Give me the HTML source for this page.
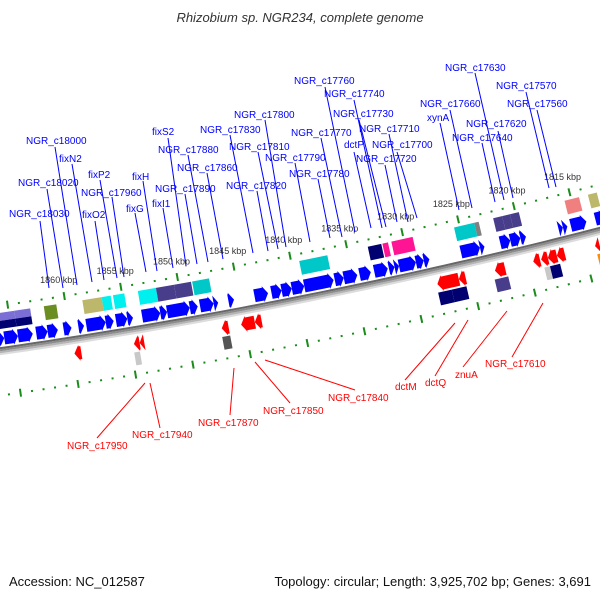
<!DOCTYPE html>
<html><head><meta charset="utf-8">
<style>
html,body{margin:0;padding:0;background:#fff;}
svg{display:block;font-family:"Liberation Sans",sans-serif;}
</style></head>
<body>
<svg id="map" width="600" height="600" viewBox="0 0 600 600" xmlns="http://www.w3.org/2000/svg">
<rect width="600" height="600" fill="#fff"/>
<text x="300" y="22" text-anchor="middle" font-size="13" font-style="italic" fill="#333">Rhizobium sp. NGR234, complete genome</text>
<g id="backbone"></g><g id="ticks"></g><g id="features"></g><g id="labels"></g>
<text x="9" y="586" font-size="13" fill="#111">Accession: NC_012587</text>
<text x="591" y="586" text-anchor="end" font-size="13" fill="#111">Topology: circular; Length: 3,925,702 bp; Genes: 3,691</text>
</svg>
<script>
// ---- data (kbp) ----
const fwd1Start=[1866.4,1865.7,1864.5,1862.9,1861.9,1860.5,1859.2,1858.5,1856.8,1855.9,1854.9,1853.6,1852.0,1851.4,1849.4,1848.5,1847.3,1846.0,1843.7,1842.2,1841.3,1840.4,1839.3,1836.6,1835.8,1834.4,1833.1,1831.8,1831.3,1830.9,1829.4,1828.7,1825.4,1823.7,1821.9,1821.0,1820.1,1816.7,1816.3,1815.6,1813.4];
const fwd1End=[1865.7,1864.5,1863.2,1861.9,1861.0,1859.8,1858.7,1856.8,1856.1,1854.9,1854.4,1852.0,1851.4,1849.4,1848.7,1847.3,1846.9,1845.5,1842.5,1841.3,1840.4,1839.3,1836.7,1835.8,1834.6,1833.4,1831.9,1831.3,1830.9,1829.4,1828.7,1828.2,1823.7,1823.3,1821.0,1820.1,1819.6,1816.3,1815.9,1814.2,1812.5];
const fwd2Start=[1866.1,1864.5,1866.1,1864.5,1861.9,1858.5,1856.8,1855.8,1853.6,1852.0,1850.4,1848.8,1839.3,1833.2,1831.9,1831.1,1825.5,1823.7,1822.0,1821.2,1820.5,1815.6,1813.5];
const fwd2End=[1864.5,1863.1,1864.5,1863.1,1860.8,1856.8,1856.0,1854.8,1852.0,1850.4,1848.9,1847.3,1836.8,1832.0,1831.4,1829.2,1823.7,1823.3,1821.2,1820.5,1819.7,1814.3,1812.7];
const fwd2Color=["#7b6fd6","#7b6fd6","#000070","#000070","#6b8e23","#bdb76b","#00f0f0","#00f0f0","#00f0f0","#483d8b","#483d8b","#00c8c8","#00c8c8","#000070","#ff1493","#ff1493","#00c8c8","#808080","#483d8b","#483d8b","#483d8b","#f08080","#bdb76b"];
const fwd2Part=["upper","upper","lower","lower","full","full","full","full","full","full","full","full","full","full","full","full","full","full","full","full","full","full","full"];
const rev1Start=[1859.9,1854.7,1854.2,1847.0,1845.3,1844.1,1828.0,1826.1,1822.9,1819.5,1818.8,1818.2,1817.4,1814.0];
const rev1End=[1859.3,1854.2,1853.8,1846.4,1844.1,1843.5,1826.1,1825.5,1822.0,1818.9,1818.2,1817.4,1816.7,1813.6];
const rev2Start=[1854.8,1847.1,1828.1,1826.9,1823.1,1818.7,1818.2,1814.0];
const rev2End=[1854.3,1846.4,1826.9,1825.6,1821.9,1818.2,1817.3,1813.5];
const rev2Color=["#c8c8c8","#555555","#000070","#000070","#483d8b","#c8c8c8","#000070","#ff8c00"];
const tickMin=1808, tickMax=1870;
const tickLabelMin=1815, tickLabelMax=1860;
const topLabels=["NGR_c18030","NGR_c18020","NGR_c18000","fixN2","fixO2","fixP2","NGR_c17960","fixG","fixH","fixI1","NGR_c17890","fixS2","NGR_c17880","NGR_c17860","NGR_c17830","NGR_c17820","NGR_c17810","NGR_c17800","NGR_c17790","NGR_c17780","NGR_c17770","NGR_c17760","NGR_c17740","NGR_c17730","dctP","NGR_c17720","NGR_c17710","NGR_c17700","NGR_c17660","xynA","NGR_c17630","NGR_c17620","NGR_c17640","NGR_c17570","NGR_c17560"];
const bottomLabels=["NGR_c17950","NGR_c17940","NGR_c17870","NGR_c17850","NGR_c17840","dctM","dctQ","znuA","NGR_c17610"];
// ---- layout (pixel positions of labels & leaders) ----
const topLayout=[[9,217,40,221,49,288],[18,186,47,189,63,288],[26,144,55,147,77,285],[59,162,72,164,92,282],[82,218,95,221,104,280],[88,178,100,180,117,278],[81,196,112,197,124,277],[126,212,135,213,146,272],[132,180,143,181,157,271],[152,207,163,208,173,268],[155,192,185,194,197,264],[152,135,168,138,186,266],[158,153,188,155,208,262],[177,171,207,173,223,259],[200,133,230,135,253,253],[226,189,257,191,268,251],[229,150,258,152,278,249],[234,118,265,120,286,247],[265,161,295,163,310,242],[289,177,318,179,330,238],[291,136,321,138,342,237],[294,84,325,87,355,232],[324,97,354,100,382,228],[333,117,359,120,386,227],[344,148,354,152,371,228],[356,162,385,165,397,222],[359,132,389,134,408,222],[372,148,397,152,417,218],[420,107,450,110,472,208],[427,121,440,123,459,210],[445,71,475,73,504,200],[466,127,498,131,513,198],[452,141,482,143,495,202],[496,89,526,92,549,188],[507,107,537,110,556,187]];
const bottomLayout=[[67,449,97,438,145,383],[132,438,160,428,150,383],[198,426,230,415,234,368],[263,414,290,403,255,362],[328,401,355,390,265,360],[395,390,405,380,455,323],[425,386,435,376,468,320],[455,378,463,367,507,311],[485,367,512,357,543,303]];

const NS="http://www.w3.org/2000/svg";
const R=5600, PXK=11.55, T0=Math.atan2(0.9806,0.1961);
const CX=298-R*0.1961, CY=296-R*0.9806;
function pt(k,d){const s=(1840-k)*PXK;const t=T0-s/R;const r=R-d;return [CX+r*Math.cos(t),CY+r*Math.sin(t)];}
function sK(s){return 1840-s/PXK;}
function poly(parent,pts,fill,name){const p=document.createElementNS(NS,'polygon');
p.setAttribute('points',pts.map(q=>q[0].toFixed(2)+','+q[1].toFixed(2)).join(' '));
p.setAttribute('fill',fill);


parent.appendChild(p);return p;}
function line(parent,a,b,col,w,name){const l=document.createElementNS(NS,'line');
l.setAttribute('x1',a[0]);l.setAttribute('y1',a[1]);l.setAttribute('x2',b[0]);l.setAttribute('y2',b[1]);
l.setAttribute('stroke',col);l.setAttribute('stroke-width',w);


parent.appendChild(l);}
function arc(parent,d,col,w,name){const p=document.createElementNS(NS,'polyline');const a=[];
for(let k=1870;k>=1806;k-=1){a.push(pt(k,d).map(v=>v.toFixed(2)).join(','));}
p.setAttribute('points',a.join(' '));p.setAttribute('fill','none');p.setAttribute('stroke',col);p.setAttribute('stroke-width',w);


parent.appendChild(p);}
function box(parent,kL,kR,a,b,col,name){poly(parent,[pt(kL,a),pt(kR,a),pt(kR,b),pt(kL,b)],col,name);}
function arrow(parent,kL,kR,a,b,col,dir,name){
 const sL=(1840-kL)*PXK,sR=(1840-kR)*PXK,h=Math.min(5,sR-sL),m=(a+b)/2;
 if(dir>0){const sh=sR-h;poly(parent,[pt(sK(sL),a),pt(sK(sh),a),pt(sK(sh),a-1.5),pt(sK(sR),m),pt(sK(sh),b+1.5),pt(sK(sh),b),pt(sK(sL),b)],col,name);}
 else{const sh=sL+h;poly(parent,[pt(sK(sR),a),pt(sK(sh),a),pt(sK(sh),a-1.5),pt(sK(sL),m),pt(sK(sh),b+1.5),pt(sK(sh),b),pt(sK(sR),b)],col,name);}
}
const bb=document.getElementById('backbone');
arc(bb,-7,'#dcdcdc',2,'backbone-shadow');arc(bb,-5,'#b4b4b4',2,'backbone-shadow');arc(bb,-3,'#8c8c8c',2,'backbone-shadow');arc(bb,-1,'#666',2,'backbone-line');
const tk=document.getElementById('ticks');
for(let k=tickMin;k<=tickMax;k++){
 const major=k%5===0;
 [41,-48].forEach(function(d){
  if(major) line(tk,pt(k,d-4),pt(k,d+4),'#1a8c1a',2,'major-tick');
  else line(tk,pt(k,d-1),pt(k,d+1),'#1a8c1a',2,'minor-tick');
 });
 if(major && k>=tickLabelMin && k<=tickLabelMax){const p=pt(k,57);const t=document.createElementNS(NS,'text');
  t.setAttribute('x',(p[0]-3).toFixed(1));t.setAttribute('y',(p[1]+3).toFixed(1));t.setAttribute('text-anchor','middle');
  t.setAttribute('font-size','9');t.setAttribute('fill','#333');t.textContent=k+' kbp';
  
  
  tk.appendChild(t);}
}
const fg=document.getElementById('features');
for(let i=0;i<fwd1Start.length;i++){arrow(fg,fwd1Start[i],fwd1End[i],2,15,'#0000ff',1,'forward-gene');}
for(let i=0;i<fwd2Start.length;i++){
 let a=20,b=34; if(fwd2Part[i]==='upper'){a=26;b=34;} if(fwd2Part[i]==='lower'){a=18;b=26;}
 box(fg,fwd2Start[i],fwd2End[i],a,b,fwd2Color[i],'forward-feature');}
for(let i=0;i<rev1Start.length;i++){arrow(fg,rev1Start[i],rev1End[i],-24,-11,'#ff0000',-1,'reverse-gene');}
for(let i=0;i<rev2Start.length;i++){box(fg,rev2Start[i],rev2End[i],-39,-26,rev2Color[i],'reverse-feature');}
const lg=document.getElementById('labels');
function addLabel(txt,L,col,name){
 line(lg,[L[2],L[3]],[L[4],L[5]],col,1,name+'-leader');
 const t=document.createElementNS(NS,'text');t.setAttribute('x',L[0]);t.setAttribute('y',L[1]);
 t.setAttribute('font-size','10');t.setAttribute('fill',col);t.textContent=txt;
 
 
 lg.appendChild(t);}
topLabels.forEach(function(s,i){addLabel(s,topLayout[i],'#0000ff','gene-label');});
bottomLabels.forEach(function(s,i){addLabel(s,bottomLayout[i],'#ff0000','gene-label');});
</script>
</body></html>
